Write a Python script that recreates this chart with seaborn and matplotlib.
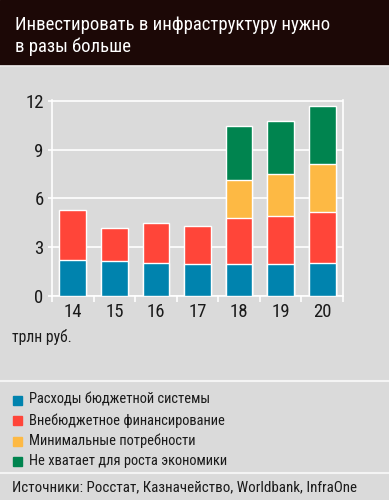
import numpy as np
import pandas as pd
import matplotlib
matplotlib.use("Agg")
import matplotlib.pyplot as plt
import seaborn as sns
from matplotlib import font_manager
from matplotlib.patches import Rectangle
from matplotlib.lines import Line2D

# данные, трлн руб.
years = ["14", "15", "16", "17", "18", "19", "20"]
budget = [2.19, 2.15, 2.02, 1.96, 1.96, 1.96, 2.02]
extra_budget = [3.11, 2.02, 2.46, 2.33, 2.85, 2.95, 3.17]
min_needs = [0, 0, 0, 0, 2.31, 2.62, 2.93]
growth_gap = [0, 0, 0, 0, 3.33, 3.23, 3.56]

series_names = ["Расходы бюджетной системы", "Внебюджетное финансирование",
                "Минимальные потребности", "Не хватает для роста экономики"]
colors = ["#0083ae", "#ff4539", "#fdb944", "#00844f"]
yticks = [0, 3, 6, 9, 12]

title = "Инвестировать в инфраструктуру нужно\nв разы больше"
unit_label = "трлн руб."
source = "Источники: Росстат, Казначейство, Worldbank, InfraOne"

BG = "#dadada"
HEADER = "#1c0806"
INK = "#1a1a1a"

sns.set_theme(style="white")
installed = {f.name for f in font_manager.fontManager.ttflist}
prefs = ["Roboto Condensed", "Liberation Sans Narrow", "Roboto", "Liberation Sans"]
main_font = next((f for f in prefs if f in installed), "DejaVu Sans")
plt.rcParams["font.family"] = [main_font, "DejaVu Sans"]

df = pd.DataFrame({"year": years, "s0": budget, "s1": extra_budget,
                   "s2": min_needs, "s3": growth_gap})
# накопленные высоты для стека
cum = df[["s0", "s1", "s2", "s3"]].cumsum(axis=1)
for c in ["s2", "s3"]:
    cum.loc[df[c] == 0, c] = np.nan
cum["year"] = years

W, H = 389, 500
fig = plt.figure(figsize=(W / 100, H / 100), dpi=100, facecolor=BG)
renderer = fig.canvas.get_renderer()


def fit_text(x, y, s, width_px, size, **kw):
    # подгоняем размер шрифта под ширину строки в оригинале
    t = fig.text(x / W, 1 - y / H, s, fontsize=size, va="center", ha="left", **kw)
    w = t.get_window_extent(renderer).width
    t.set_fontsize(size * width_px / w)
    return t


# шапка
fig.patches.append(Rectangle((0, 1 - 65 / H), 1, 65 / H, transform=fig.transFigure,
                             color=HEADER, zorder=0))
fig.add_artist(Line2D([0, 1], [1 - 66 / H] * 2, transform=fig.transFigure,
                      color="#f2f2f2", lw=1.2))
t1, t2 = title.split("\n")
tt = fit_text(15, 25, t1, 315, 13, color="white")
fig.text(15 / W, 1 - 47 / H, t2, color="white", fontsize=tt.get_fontsize(),
         va="center", ha="left")

ax = fig.add_axes([52 / W, 1 - 296 / H, 291 / W, 196 / H])
ax.set_facecolor(BG)
for col, color in zip(["s3", "s2", "s1", "s0"], colors[::-1]):
    sns.barplot(data=cum, x="year", y=col, color=color, width=0.64,
                saturation=1, ax=ax, zorder=3)

ax.set_ylim(0, 12.05)
ax.set_xlim(-0.5, 6.5)
ax.set_yticks(yticks)
ax.set_yticklabels([str(t) for t in yticks])
ax.set_xlabel("")
ax.set_ylabel("")
ax.grid(axis="y", color="white", lw=1.2, zorder=0)
for s in ["left", "right", "bottom"]:
    ax.spines[s].set_visible(True)
    ax.spines[s].set_color("white")
    ax.spines[s].set_linewidth(1.2)
ax.spines["top"].set_visible(False)
ax.set_xticks(np.arange(-0.5, 7, 1), minor=True)
ax.tick_params(axis="x", which="minor", length=4, color="white", width=1.2,
               direction="out", bottom=True)
ax.tick_params(axis="x", which="major", length=0, labelsize=13.5, pad=5,
               labelcolor=INK)
ax.tick_params(axis="y", length=3, width=1.2, color="white", direction="out",
               left=True, labelsize=13.5, pad=3, labelcolor=INK)

fit_text(12, 337, unit_label, 60, 10, color=INK)

fig.add_artist(Line2D([0, 1], [1 - 381 / H] * 2, transform=fig.transFigure,
                      color="#f4f4f4", lw=1.5))

leg_size = None
for i, (name, color) in enumerate(zip(series_names, colors)):
    yc = 1 - (400 + 20.5 * i) / H
    fig.patches.append(Rectangle((13 / W, yc - 4.5 / H), 9 / W, 9 / H,
                                 transform=fig.transFigure, color=color))
    if leg_size is None:
        leg_size = fit_text(29, 400, name, 182, 11, color=INK).get_fontsize()
    else:
        fig.text(29 / W, yc, name, fontsize=leg_size, va="center", color=INK)

fig.add_artist(Line2D([0, 1], [1 - 473 / H] * 2, transform=fig.transFigure,
                      color="#f4f4f4", lw=1.5))
fit_text(12, 487, source, 345, 11, color=INK)

fig.savefig("out.png", dpi=100, facecolor=BG)
